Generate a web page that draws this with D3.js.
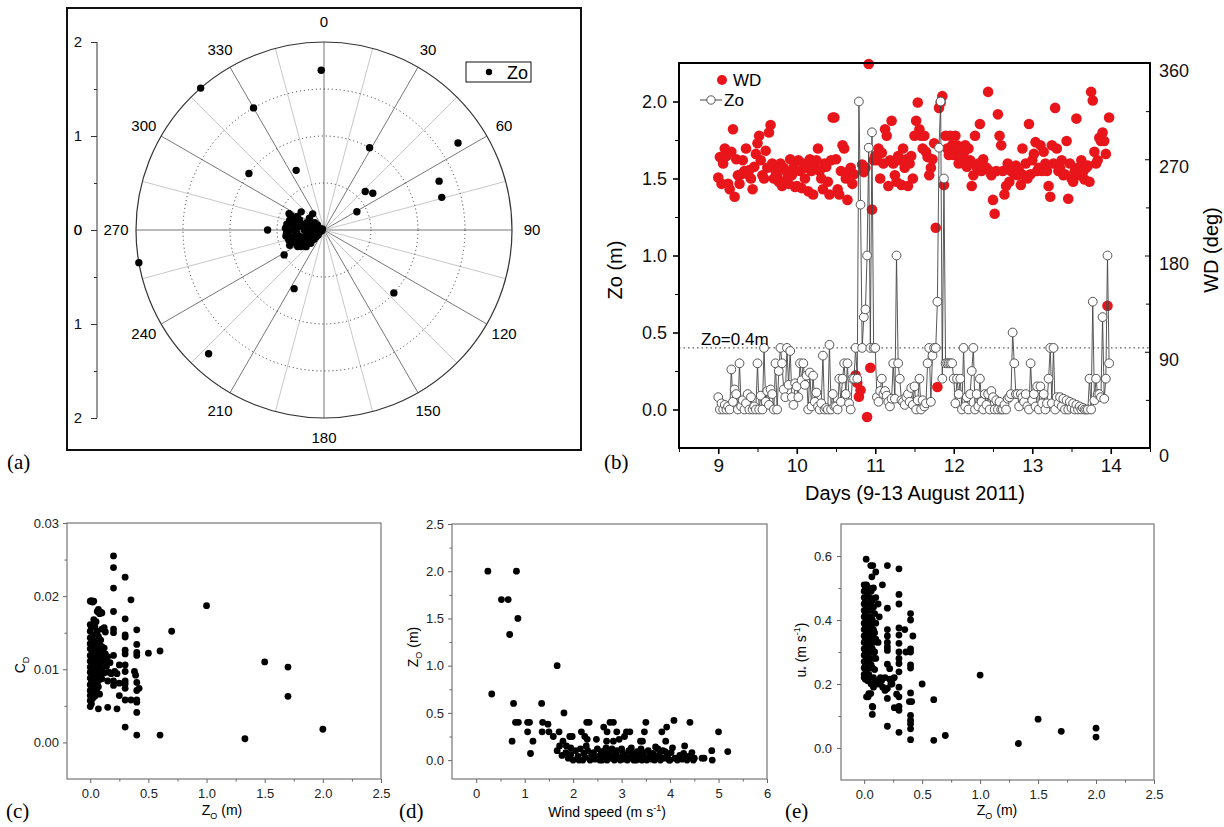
<!DOCTYPE html>
<html>
<head>
<meta charset="utf-8">
<script src="https://cdn.jsdelivr.net/npm/d3@7"></script>
<style>
body{margin:0;background:#fff;}
svg{display:block;font-family:"Liberation Sans",Arial,sans-serif;}
.lab{font-family:"Liberation Serif","Times New Roman",serif;font-size:21px;}
</style>
</head>
<body>
<script>
// ---- (a) polar: [direction deg, Zo m]
var polarPoints = [
 [359,1.7],[319,2.0],[330,1.5],[307,1.0],[335,0.7],[29,1.0],[57,1.7],[67,1.33],[74.5,1.3],
 [47,0.6],[53,0.65],[61,0.4],[270,0.6],[260,2.0],[238,0.5],[207,0.7],[223,1.8],[132,1.0],
 [295,0.41],[293,0.38],[286,0.38],[279,0.40],[272.5,0.41],[265,0.40],[261,0.41],[254,0.39],
 [246,0.40],[247,0.35],[297,0.32],[308.5,0.31],[292,0.28],[283,0.23],[270,0.21],[254,0.26],
 [234,0.30],[231,0.26],[293,0.20],[258,0.17],[231,0.20],[325,0.21],[270,0.12],[289,0.105],
 [249,0.10],[229,0.11],[284,0.07],[270,0.055],[248,0.047],[284,0.033],[254,0.026],[300,0.02],
 [243,0.19],[256,0.14],[263,0.29],[270,0.326],[255,0.31],[245,0.29],[244,0.25],[251,0.21],
 [277,0.155],[292,0.14],[308,0.126],[307,0.088],[229,0.082],[227,0.145],[225,0.20],[227,0.26],
 [238,0.33],[258,0.355],[279,0.337],[288,0.32],[277,0.277],[309,0.2],[270,0.39],[265,0.38]
];
var compassLabels = [0,30,60,90,120,150,180,210,240,270,300,330];
var ringValues = [0.5,1.0,1.5];

// ---- (b) time series, half-hourly from day 9
var startDay = 9, stepDay = 1/48;
var zoDay9  = [0.08,0.0,0.04,0.0,0.03,0.0,0.02,0.0,0.26,0.05,0.13,0.1,0.0,0.3,0.02,0.06,0.0,0.04,0.1,0.0,0.08,0.0,0.02,0.0,0.3,0.0,0.09,0.0,0.4,0.05,0.12,0.03,0.13,0.1,0.0,0.3,0.0,0.25,0.4,0.3,0.13,0.08,0.4,0.16,0.38,0.08,0.03,0.17];
var zoDay10 = [0.15,0.08,0.3,0.19,0.3,0.16,0.22,0.0,0.24,0.02,0.22,0.05,0.11,0.02,0.0,0.04,0.35,0.0,0.01,0.0,0.42,0.0,0.1,0.02,0.02,0.0,0.2,0.05,0.2,0.3,0.1,0.3,0.04,0.0,0.2,0.2,0.4,0.2,2.0,1.33,0.4,0.6,0.65,1.0,1.7,0.4,1.8,0.4];
var zoDay11 = [0.4,0.08,0.05,0.12,0.2,0.1,0.12,0.09,0.05,0.02,0.07,0.3,0.07,1.0,0.3,0.2,0.06,0.05,0.03,0.08,0.1,0.05,0.14,0.03,0.15,0.0,0.06,0.2,0.0,0.06,0.02,0.04,0.3,0.4,0.05,0.35,0.4,0.4,0.7,1.7,2.0,0.2,1.5,0.3,0.3,0.3,0.3,0.3];
var zoDay12 = [0.2,0.04,0.2,0.1,0.2,0.0,0.4,0.02,0.08,0.0,0.1,0.25,0.4,0.0,0.1,0.02,0.2,0.05,0.0,0.1,0.03,0.1,0.0,0.12,0.08,0.0,0.06,0.0,0.05,0.0,0.0,0.03,0.0,0.07,0.08,0.1,0.5,0.3,0.1,0.1,0.02,0.1,0.08,0.05,0.1,0.02,0.0,0.3];
var zoDay13 = [0.06,0.1,0.02,0.15,0.0,0.15,0.04,0.1,0.0,0.04,0.2,0.4,0.04,0.4,0.0,0.08,0.04,0.08,0.02,0.07,0.0,0.06,0.0,0.05,0.01,0.04,0.0,0.03,0.0,0.02,0.0,0.01,0.0,0.0,0.0,0.2,0.0,0.7,0.06,0.2,0.1,0.1,0.08,0.6,0.07,0.2,1.0,0.3];
var wdDay9  = [253,272,247,266,280,273,247,242,277,298,235,270,255,247,256,269,259,280,256,260,252,242,263,275,285,292,269,255,252,278,262,295,302,266,252,259,255,249,266,245,262,250,258,247,270,255,262,244];
var wdDay10 = [245,269,259,243,266,252,262,240,270,259,237,263,269,280,259,252,242,266,263,249,237,269,309,309,270,242,237,259,283,280,252,232,259,262,247,256,68,61,48,54,265,258,262,29,359,75,223,269];
var wdDay11 = [273,269,280,252,276,266,298,292,245,269,306,266,255,249,273,269,246,280,262,270,245,266,273,252,292,306,323,298,292,280,292,277,272,255,262,270,285,206,57,318,323,329,246,292,280,274,292,283];
var wdDay12 = [274,292,283,266,280,269,275,283,263,280,269,245,255,292,263,266,303,259,270,263,262,333,259,255,232,219,259,312,292,283,259,237,245,266,249,259,260,256,264,255,259,246,280,255,266,252,303,256];
var wdDay13 = [269,275,286,259,262,283,259,277,266,259,245,235,283,266,318,280,259,262,269,255,256,287,233,266,252,249,259,308,262,255,269,258,251,262,264,249,333,325,277,266,269,290,287,295,287,275,133,309];
var zoSeries = zoDay9.concat(zoDay10, zoDay11, zoDay12, zoDay13);
var wdSeries = wdDay9.concat(wdDay10, wdDay11, wdDay12, wdDay13);
var zoThreshold = 0.4;

// ---- (c) [Zo, CD]
var cdPoints = [
 [0.2,0.0255],[0.2,0.0239],[0.3,0.0226],[0.2,0.0211],[0.35,0.0195],[0.2,0.0179],[0.3,0.0169],[0.4,0.0154],
 [0.2,0.0155],[0.2,0.015],[0.3,0.0147],[0.3,0.0144],[0.4,0.0134],[0.4,0.0123],[0.4,0.0119],[0.3,0.0126],
 [0.3,0.0121],[0.5,0.0122],[0.6,0.0125],[0.7,0.0152],[1.0,0.0187],[1.5,0.011],[1.7,0.0103],[1.7,0.0063],
 [2.0,0.0018],[1.33,0.0005],[0.6,0.001],[0.4,0.001],[0.3,0.0021],[0.4,0.0041],[0.4,0.0055],[0.4,0.0058],
 [0.35,0.0058],[0.3,0.0058],[0.25,0.0064],[0.4,0.0071],[0.42,0.0074],[0.4,0.0082],[0.3,0.0084],[0.3,0.0074],
 [0.2,0.0078],[0.2,0.0084],[0.25,0.0081],[0.3,0.0106],[0.3,0.0097],[0.38,0.0097],[0.39,0.0092],[0.2,0.0119],
 [0.21,0.0097],[0.23,0.0094],[0.25,0.0106],[0.15,0.0048],[0.23,0.0046],[0.07,0.0046],[0.15,0.0084],[0.3,0.008],
 [0.0,0.0193],[0.01,0.0194],[0.02,0.0192],[0.03,0.0193],[0.0,0.0161],[0.0,0.0152],[0.0,0.0143],[0.0,0.0135],
 [0.0,0.0128],[0.0,0.0119],[0.0,0.0111],[0.0,0.0103],[0.0,0.0096],[0.0,0.0088],[0.0,0.0079],[0.0,0.0071],
 [0.0,0.0064],[0.0,0.0057],[0.0,0.0049],[0.01,0.0157],[0.01,0.0132],[0.01,0.0115],[0.01,0.0098],[0.01,0.0082],
 [0.01,0.0067],[0.01,0.0053],[0.02,0.0147],[0.02,0.0124],[0.02,0.0108],[0.02,0.009],[0.02,0.0074],[0.02,0.006],
 [0.03,0.0168],[0.03,0.0139],[0.03,0.0117],[0.03,0.0101],[0.03,0.0085],[0.03,0.0069],[0.04,0.0158],[0.04,0.0127],
 [0.04,0.0112],[0.04,0.0094],[0.04,0.0078],[0.04,0.0063],[0.05,0.0165],[0.05,0.0136],[0.05,0.0121],[0.05,0.0105],
 [0.05,0.0089],[0.05,0.0072],[0.06,0.0179],[0.06,0.0152],[0.06,0.013],[0.06,0.0114],[0.06,0.0099],[0.06,0.0081],
 [0.06,0.0068],[0.07,0.0182],[0.07,0.0145],[0.07,0.0126],[0.07,0.0109],[0.07,0.0092],[0.07,0.0076],[0.08,0.0176],
 [0.08,0.0133],[0.08,0.0118],[0.08,0.0102],[0.08,0.0086],[0.08,0.0066],[0.09,0.0178],[0.09,0.014],[0.09,0.0123],
 [0.09,0.0107],[0.09,0.0093],[0.1,0.0177],[0.1,0.0155],[0.1,0.0131],[0.1,0.0116],[0.1,0.0099],[0.1,0.0087],
 [0.12,0.0157],[0.12,0.0129],[0.12,0.0112],[0.12,0.0095],[0.13,0.0151],[0.13,0.0121],[0.14,0.0104],[0.15,0.0117],
 [0.16,0.0096],[0.17,0.0109],[0.18,0.0094]
];

// ---- (d) [wind speed, Zo]
var wsPoints = [
 [0.24,2.0],[0.83,2.0],[0.52,1.7],[0.66,1.7],[0.86,1.5],[0.69,1.33],[1.67,1.0],[0.32,0.7],[0.77,0.6],[1.35,0.6],
 [1.81,0.5],[0.81,0.4],[0.87,0.4],[1.06,0.4],[1.1,0.4],[1.37,0.4],[1.48,0.38],[1.06,0.3],[1.36,0.3],[1.5,0.3],
 [0.74,0.2],[1.17,0.2],[1.59,0.25],[1.12,0.07],[1.71,0.3],[2.17,0.3],[2.28,0.4],[2.33,0.4],[2.76,0.4],[2.83,0.4],
 [3.5,0.4],[4.41,0.4],[4.08,0.42],[5.0,0.3],[5.19,0.09],[4.86,0.1],[4.87,0.0],[4.66,0.02],[4.7,0.02],[4.48,0.0],
 [4.3,0.15],[3.91,0.2],[3.93,0.35],[3.83,0.3],[3.39,0.2],[3.43,0.2],[3.47,0.3],[3.1,0.3],[3.17,0.3],[2.9,0.3],
 [2.63,0.35],[2.69,0.2],[2.83,0.2],[3.06,0.25],[2.24,0.25],[2.29,0.22],[2.48,0.22],[1.93,0.25],[1.98,0.25],[1.79,0.2],
 [1.86,0.15],[1.72,0.15],[1.67,0.1],[1.77,0.05],[2.7,0.3],[2.95,0.22],[3.0,0.12],[3.75,0.12],[4.05,0.13],[3.7,0.14],
 [1.85,0.08],[1.9,0.02],[1.95,0.06],[2.0,0.0],[2.05,0.1],[2.1,0.04],[2.15,0.12],[2.2,0.0],[2.22,0.07],[2.25,0.03],
 [2.3,0.1],[2.35,0.0],[2.38,0.05],[2.42,0.08],[2.45,0.01],[2.5,0.12],[2.52,0.04],[2.55,0.0],[2.6,0.07],[2.62,0.02],
 [2.65,0.1],[2.7,0.0],[2.72,0.05],[2.75,0.08],[2.78,0.02],[2.8,0.12],[2.85,0.0],[2.88,0.06],[2.9,0.1],[2.93,0.03],
 [2.97,0.0],[3.02,0.08],[3.05,0.01],[3.08,0.05],[3.12,0.0],[3.15,0.1],[3.18,0.03],[3.22,0.07],[3.25,0.0],[3.28,0.04],
 [3.32,0.09],[3.35,0.01],[3.38,0.05],[3.42,0.0],[3.45,0.08],[3.48,0.03],[3.52,0.0],[3.55,0.1],[3.58,0.04],[3.62,0.01],
 [3.65,0.07],[3.68,0.0],[3.72,0.03],[3.78,0.06],[3.8,0.0],[3.85,0.1],[3.88,0.02],[3.95,0.05],[3.98,0.0],[4.02,0.08],
 [4.1,0.02],[4.15,0.0],[4.2,0.05],[4.25,0.01],[4.28,0.07],[4.35,0.0],[4.38,0.04],[4.45,0.08],[4.5,0.02],[1.95,0.13],
 [2.12,0.0],[2.4,0.03],[2.58,0.09],[2.68,0.13],[2.82,0.04],[3.0,0.02],[3.2,0.13],[3.4,0.12],[3.6,0.06],[3.9,0.09],
 [4.0,0.0],[4.3,0.03],[2.27,0.15],[2.6,0.0],[3.3,0.0]
];

// ---- (e) [Zo, u*]
var ustarPoints = [
 [0.0,0.51],[0.0,0.49],[0.0,0.47],[0.0,0.45],[0.0,0.43],[0.0,0.41],[0.0,0.39],[0.0,0.37],[0.0,0.35],[0.0,0.33],
 [0.0,0.31],[0.0,0.29],[0.0,0.27],[0.0,0.25],[0.0,0.23],[0.0,0.22],[0.01,0.5],[0.01,0.46],[0.01,0.42],[0.01,0.38],
 [0.01,0.34],[0.01,0.3],[0.01,0.26],[0.01,0.215],[0.02,0.51],[0.02,0.44],[0.02,0.4],[0.02,0.36],[0.02,0.32],[0.02,0.28],
 [0.02,0.24],[0.02,0.16],[0.03,0.48],[0.03,0.43],[0.03,0.37],[0.03,0.33],[0.03,0.29],[0.03,0.25],[0.03,0.21],[0.04,0.5],
 [0.04,0.45],[0.04,0.39],[0.04,0.35],[0.04,0.31],[0.04,0.27],[0.04,0.23],[0.04,0.17],[0.05,0.47],[0.05,0.41],[0.05,0.36],
 [0.05,0.32],[0.05,0.28],[0.05,0.22],[0.06,0.49],[0.06,0.43],[0.06,0.38],[0.06,0.34],[0.06,0.3],[0.06,0.26],[0.06,0.2],
 [0.07,0.46],[0.07,0.4],[0.07,0.35],[0.07,0.31],[0.07,0.25],[0.07,0.13],[0.07,0.105],[0.08,0.5],[0.08,0.44],[0.08,0.37],
 [0.08,0.33],[0.08,0.28],[0.08,0.22],[0.08,0.19],[0.09,0.42],[0.09,0.36],[0.09,0.3],[0.09,0.245],[0.09,0.2],[0.1,0.47],
 [0.1,0.39],[0.1,0.34],[0.1,0.28],[0.1,0.21],[0.12,0.45],[0.12,0.33],[0.12,0.2],[0.13,0.41],[0.14,0.22],[0.15,0.21],
 [0.16,0.19],[0.18,0.22],[0.22,0.215],[0.24,0.2],[0.26,0.22],
 [0.017,0.59],[0.057,0.57],[0.074,0.57],[0.2,0.57],[0.3,0.56],[0.1,0.55],[0.066,0.535],[0.157,0.51],[0.3,0.48],[0.3,0.45],
 [0.2,0.437],[0.4,0.42],[0.4,0.40],[0.42,0.35],[0.35,0.37],[0.3,0.375],[0.3,0.353],[0.4,0.31],[0.4,0.30],[0.36,0.30],
 [0.3,0.327],[0.3,0.30],[0.3,0.28],[0.3,0.264],[0.3,0.238],[0.4,0.26],[0.4,0.25],[0.2,0.37],[0.2,0.35],[0.2,0.33],
 [0.2,0.316],[0.2,0.305],[0.2,0.262],[0.22,0.248],[0.5,0.2],[1.0,0.228],[0.6,0.151],[0.4,0.172],[0.39,0.145],[0.41,0.145],
 [0.4,0.102],[0.4,0.087],[0.4,0.076],[0.4,0.06],[0.4,0.026],[0.3,0.19],[0.3,0.16],[0.3,0.13],[0.3,0.118],[0.3,0.049],
 [0.2,0.068],[0.6,0.024],[0.7,0.039],[1.33,0.014],[1.5,0.09],[1.7,0.052],[2.0,0.062],[2.0,0.034],[0.26,0.126],[0.2,0.155],
 [0.28,0.168],[0.18,0.18],[0.2,0.186],[0.23,0.2],[0.25,0.217],[0.074,0.128],[0.034,0.16],[0.057,0.17]
];

var svg = d3.select("body").append("svg")
    .attr("width",1224)
    .attr("height",827);

function styleAxis(g, size, color){
    g.select(".domain").remove();
    g.selectAll(".tick line").attr("stroke",color);
    g.selectAll(".tick text").attr("font-size",size).attr("fill","#111")
        .attr("font-family","'Liberation Sans',Arial,sans-serif");
}

// ===================== (a) polar =====================
var cxA = 324, cyA = 230, radA = 188;
svg.append("rect").attr("x",67).attr("y",8).attr("width",514).attr("height",442)
    .attr("fill","none").attr("stroke","#111").attr("stroke-width",2);

var rA = d3.scaleLinear().domain([0,2]).range([0,radA]);
var gA = svg.append("g").attr("transform","translate("+cxA+","+cyA+")");
var rad = function(a){ return a*Math.PI/180; };

gA.selectAll(".spoke").data(d3.range(0,360,15)).enter()
    .append("line")
    .attr("x1",0).attr("y1",0)
    .attr("x2",function(d){return radA*Math.sin(rad(d));})
    .attr("y2",function(d){return -radA*Math.cos(rad(d));})
    .attr("stroke",function(d){return d%30==0 ? "#777" : "#c8c8c8";})
    .attr("stroke-width",1);

gA.selectAll(".ring").data(ringValues).enter()
    .append("circle")
    .attr("r",function(d){return rA(d);})
    .attr("fill","none").attr("stroke","#333").attr("stroke-width",1)
    .attr("stroke-dasharray","1,3");

gA.append("circle").attr("r",radA).attr("fill","none").attr("stroke","#333").attr("stroke-width",1.2);

gA.selectAll(".clabel").data(compassLabels).enter()
    .append("text")
    .attr("x",function(d){return (radA+20)*Math.sin(rad(d));})
    .attr("y",function(d){return -(radA+20)*Math.cos(rad(d));})
    .attr("dy","0.36em")
    .attr("text-anchor","middle")
    .attr("font-size",15)
    .text(function(d){return d;});

gA.selectAll(".pp").data(polarPoints).enter()
    .append("circle")
    .attr("cx",function(d){return rA(d[1])*Math.sin(rad(d[0]));})
    .attr("cy",function(d){return -rA(d[1])*Math.cos(rad(d[0]));})
    .attr("r",3.7)
    .attr("fill","#000");

// radial scale on the left
var rUp = d3.scaleLinear().domain([0,2]).range([cyA,cyA-radA]);
var rDown = d3.scaleLinear().domain([0,2]).range([cyA,cyA+radA]);
[rUp,rDown].forEach(function(s){
    var ga = svg.append("g").attr("transform","translate(97,0)")
        .call(d3.axisLeft(s).tickValues([0,1,2]).tickFormat(d3.format("d")).tickSize(6).tickPadding(9));
    styleAxis(ga,15,"#333");
    var gm = svg.append("g").attr("transform","translate(97,0)")
        .call(d3.axisLeft(s).tickValues([0.5,1.5]).tickFormat("").tickSize(3));
    styleAxis(gm,15,"#333");
});
svg.append("line").attr("x1",97).attr("x2",97).attr("y1",cyA-radA).attr("y2",cyA+radA)
    .attr("stroke","#333").attr("stroke-width",1);

// legend
svg.append("rect").attr("x",466).attr("y",62).attr("width",65).attr("height",20)
    .attr("fill","#fff").attr("stroke","#111").attr("stroke-width",1);
svg.append("circle").attr("cx",489).attr("cy",72).attr("r",3.2).attr("fill","#000");
svg.append("text").attr("x",507).attr("y",79).attr("font-size",18).text("Zo");

svg.append("text").attr("class","lab").attr("x",7).attr("y",469).text("(a)");

// ===================== (b) time series =====================
var xB = d3.scaleLinear().domain([8.5,14.5]).range([679,1150]);
var yB = d3.scaleLinear().domain([-0.25,2.25]).range([448,63]);
var yB2 = d3.scaleLinear().domain([0,360]).range([448,63]);
var tOf = function(i){ return startDay + i*stepDay; };

var gB = svg.append("g");

gB.append("line")
    .attr("x1",xB.range()[0]).attr("x2",xB.range()[1])
    .attr("y1",yB(zoThreshold)).attr("y2",yB(zoThreshold))
    .attr("stroke","#333").attr("stroke-width",1).attr("stroke-dasharray","1.5,3");

gB.selectAll(".wd").data(wdSeries).enter()
    .append("circle")
    .attr("cx",function(d,i){return xB(tOf(i));})
    .attr("cy",function(d){return yB2(d);})
    .attr("r",5.3)
    .attr("fill","#e8151b");

var zoLine = d3.line()
    .x(function(d,i){return xB(tOf(i));})
    .y(function(d){return yB(d);});
gB.append("path").datum(zoSeries)
    .attr("d",zoLine)
    .attr("fill","none").attr("stroke","#444").attr("stroke-width",0.9);
gB.selectAll(".zo").data(zoSeries).enter()
    .append("circle")
    .attr("cx",function(d,i){return xB(tOf(i));})
    .attr("cy",function(d){return yB(d);})
    .attr("r",4.4)
    .attr("fill","#fff").attr("stroke","#555").attr("stroke-width",1);

gB.append("rect").attr("x",679).attr("y",63).attr("width",471).attr("height",385)
    .attr("fill","none").attr("stroke","#000").attr("stroke-width",2);

var axL = gB.append("g").attr("transform","translate(679,0)")
    .call(d3.axisLeft(yB).tickValues([0,0.5,1,1.5,2]).tickFormat(d3.format(".1f")).tickSize(6).tickPadding(6));
styleAxis(axL,18,"#000");
axL.selectAll(".tick line").attr("stroke-width",1.6);
var axLm = gB.append("g").attr("transform","translate(679,0)")
    .call(d3.axisLeft(yB).tickValues([0.25,0.75,1.25,1.75]).tickFormat("").tickSize(4));
styleAxis(axLm,18,"#000");

var axBt = gB.append("g").attr("transform","translate(0,448)")
    .call(d3.axisBottom(xB).tickValues([9,10,11,12,13,14]).tickFormat(d3.format("d")).tickSize(6).tickPadding(5));
styleAxis(axBt,19,"#000");
axBt.selectAll(".tick line").attr("stroke-width",1.6);
var axBm = gB.append("g").attr("transform","translate(0,448)")
    .call(d3.axisBottom(xB).tickValues([8.5,9.5,10.5,11.5,12.5,13.5,14.5]).tickFormat("").tickSize(4));
styleAxis(axBm,19,"#000");

var axR = gB.append("g").attr("transform","translate(1150,0)")
    .call(d3.axisRight(yB2).tickValues([0,90,180,270,360]).tickFormat(d3.format("d")).tickSize(-5).tickPadding(9));
styleAxis(axR,18,"#000");
axR.selectAll(".tick text").attr("dy","0.75em");
var axRm = gB.append("g").attr("transform","translate(1150,0)")
    .call(d3.axisRight(yB2).tickValues([45,135,225,315]).tickFormat("").tickSize(-4));
styleAxis(axRm,18,"#000");

gB.append("text").attr("transform","translate(622,270) rotate(-90)")
    .attr("text-anchor","middle").attr("font-size",20).text("Zo (m)");
gB.append("text").attr("transform","translate(1218,250) rotate(-90)")
    .attr("text-anchor","middle").attr("font-size",20).text("WD (deg)");
gB.append("text").attr("x",915).attr("y",500)
    .attr("text-anchor","middle").attr("font-size",20).text("Days (9-13 August 2011)");
gB.append("text").attr("x",701).attr("y",345).attr("font-size",17).text("Zo=0.4m");

// legend
gB.append("circle").attr("cx",722).attr("cy",80).attr("r",5).attr("fill","#e8151b");
gB.append("text").attr("x",733).attr("y",86).attr("font-size",17).text("WD");
gB.append("line").attr("x1",700).attr("x2",722).attr("y1",100).attr("y2",100).attr("stroke","#444");
gB.append("circle").attr("cx",711).attr("cy",100).attr("r",4.2).attr("fill","#fff").attr("stroke","#555");
gB.append("text").attr("x",724).attr("y",106).attr("font-size",17).text("Zo");

svg.append("text").attr("class","lab").attr("x",604).attr("y",469).text("(b)");

// ===================== (c)(d)(e) scatter panels =====================
function scatterPanel(o){
    var x = d3.scaleLinear().domain(o.xDomain).range([o.left,o.right]);
    var y = d3.scaleLinear().domain(o.yDomain).range([o.bottom,o.top]);
    var g = svg.append("g");
    g.selectAll(".pt").data(o.points).enter()
        .append("circle")
        .attr("cx",function(d){return x(d[0]);})
        .attr("cy",function(d){return y(d[1]);})
        .attr("r",3.4)
        .attr("fill","#000");
    g.append("rect").attr("x",o.left).attr("y",o.top)
        .attr("width",o.right-o.left).attr("height",o.bottom-o.top)
        .attr("fill","none").attr("stroke","#777").attr("stroke-width",1.2);
    var ax = g.append("g").attr("transform","translate(0,"+o.bottom+")")
        .call(d3.axisBottom(x).tickValues(o.xTicks).tickFormat(d3.format(o.xFmt)).tickSize(4).tickPadding(6));
    styleAxis(ax,13,"#666");
    var axm = g.append("g").attr("transform","translate(0,"+o.bottom+")")
        .call(d3.axisBottom(x).tickValues(o.xMinor).tickFormat("").tickSize(2.5));
    styleAxis(axm,13,"#666");
    var ay = g.append("g").attr("transform","translate("+o.left+",0)")
        .call(d3.axisLeft(y).tickValues(o.yTicks).tickFormat(d3.format(o.yFmt)).tickSize(4).tickPadding(o.yPad));
    styleAxis(ay,13,"#666");
    var aym = g.append("g").attr("transform","translate("+o.left+",0)")
        .call(d3.axisLeft(y).tickValues(o.yMinor).tickFormat("").tickSize(2.5));
    styleAxis(aym,13,"#666");
    g.selectAll(".tick text").attr("fill","#222");
    return g;
}

scatterPanel({
    points:cdPoints, left:67, right:381, top:523, bottom:779,
    xDomain:[-0.2,2.5], yDomain:[-0.005,0.03],
    xTicks:[0,0.5,1,1.5,2,2.5], xMinor:[0.25,0.75,1.25,1.75,2.25], xFmt:".1f",
    yTicks:[0,0.01,0.02,0.03], yMinor:[0.005,0.015,0.025], yFmt:".2f", yPad:4
});
scatterPanel({
    points:wsPoints, left:452, right:767, top:524, bottom:779,
    xDomain:[-0.5,6], yDomain:[-0.2,2.5],
    xTicks:[0,1,2,3,4,5,6], xMinor:[0.5,1.5,2.5,3.5,4.5,5.5], xFmt:"d",
    yTicks:[0,0.5,1,1.5,2,2.5], yMinor:[0.25,0.75,1.25,1.75,2.25], yFmt:".1f", yPad:4
});
scatterPanel({
    points:ustarPoints, left:841, right:1154, top:524, bottom:780,
    xDomain:[-0.2,2.5], yDomain:[-0.1,0.7],
    xTicks:[0,0.5,1,1.5,2,2.5], xMinor:[0.25,0.75,1.25,1.75,2.25], xFmt:".1f",
    yTicks:[0,0.2,0.4,0.6], yMinor:[0.1,0.3,0.5], yFmt:".1f", yPad:5
});

// axis titles c, d, e
function zoTitle(x, y, rot){
    var t = svg.append("text").attr("font-size",14).attr("text-anchor","middle")
        .attr("transform","translate("+x+","+y+")"+(rot ? " rotate(-90)" : ""));
    t.append("tspan").text("Z");
    t.append("tspan").attr("font-size",9).attr("dy",4).text("O");
    t.append("tspan").attr("dy",-4).text(" (m)");
}
var cdT = svg.append("text").attr("font-size",14).attr("text-anchor","middle")
    .attr("transform","translate(25,665) rotate(-90)");
cdT.append("tspan").text("C");
cdT.append("tspan").attr("font-size",9).attr("dy",4).text("D");
zoTitle(222,815,false);
zoTitle(418,647,true);
var wsT = svg.append("text").attr("font-size",14).attr("text-anchor","middle")
    .attr("x",607).attr("y",817);
wsT.append("tspan").text("Wind speed (m s");
wsT.append("tspan").attr("font-size",9).attr("dy",-6).text("-1");
wsT.append("tspan").attr("dy",6).text(")");
var usT = svg.append("text").attr("font-size",14).attr("text-anchor","middle")
    .attr("transform","translate(806,650) rotate(-90)");
usT.append("tspan").text("u");
usT.append("tspan").attr("font-size",9).attr("dy",3).text("*");
usT.append("tspan").attr("dy",-3).text(" (m s");
usT.append("tspan").attr("font-size",9).attr("dy",-6).text("-1");
usT.append("tspan").attr("dy",6).text(")");
zoTitle(997,815,false);

svg.append("text").attr("class","lab").attr("x",6).attr("y",818).text("(c)");
svg.append("text").attr("class","lab").attr("x",399).attr("y",818).text("(d)");
svg.append("text").attr("class","lab").attr("x",785).attr("y",818).text("(e)");
</script>
</body>
</html>
